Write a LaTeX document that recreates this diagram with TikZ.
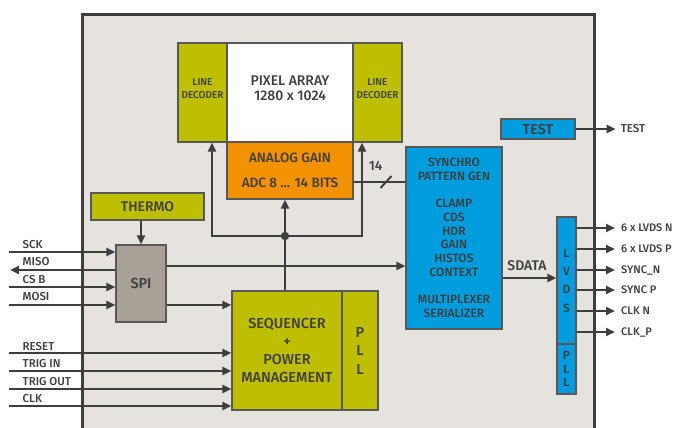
\documentclass[tikz,border=0pt]{standalone}
\usepackage{fontspec}
\setmainfont{Fira Sans}[UprightFont=* Medium]
\usetikzlibrary{arrows.meta,calc}
\definecolor{olv}{RGB}{190,191,0}
\definecolor{org}{RGB}{243,146,0}
\definecolor{blu}{RGB}{0,157,222}
\definecolor{chipbg}{RGB}{230,227,223}
\definecolor{spig}{RGB}{168,161,152}
\definecolor{txt}{RGB}{62,62,62}
\definecolor{edg}{RGB}{88,88,88}
\tikzset{
  blk/.style={draw=edg, line width=1.2pt, inner sep=0pt, text=txt, align=center},
  lbl/.style={text=txt, inner sep=0pt, align=center},
  io/.style={text=txt, inner sep=0pt, anchor=west, font=\fontsize{11.5}{13}\selectfont},
  wire/.style={draw=txt, line width=2.6pt},
  sig/.style={wire, -{Triangle[length=9pt,width=8pt]}},
}
\begin{document}
\begin{tikzpicture}[x=1pt,y=-1pt]
\useasboundingbox (0,0) rectangle (673,428);
\clip (0,0) rectangle (673,428);
\fill[white] (0,0) rectangle (673,428);
% chip
\draw[fill=chipbg, draw=txt, line width=3pt] (82,15) rectangle (594,450);

% boxes
\node[blk, fill=olv, minimum width=49pt, minimum height=99pt] (ldl) at (202.5,92.5) {};
\node[blk, fill=white, minimum width=126pt, minimum height=99pt] (pix) at (290,92.5) {};
\node[blk, fill=olv, minimum width=49pt, minimum height=99pt] (ldr) at (377.5,92.5) {};
\node[lbl, font=\fontsize{10}{13}\selectfont] (ldlt) at (202.5,88.5) {LINE\\DECODER};
\node[lbl, font=\fontsize{10}{13}\selectfont] (ldrt) at (377.5,88.5) {LINE\\DECODER};
\node[lbl, font=\fontsize{14}{15}\selectfont] (pixt) at (290,88.5) {PIXEL ARRAY\\1280 x 1024};
\node[blk, fill=org, minimum width=126pt, minimum height=57pt, font=\fontsize{13.5}{14}\selectfont] (ag) at (290,170.5) {ANALOG GAIN\\[11pt]ADC 8 ... 14 BITS};

\node[blk, fill=olv, minimum width=113pt, minimum height=27pt, font=\fontsize{14}{15}\selectfont] (thermo) at (147.5,206.5) {THERMO};
\node[blk, fill=spig, minimum width=50pt, minimum height=77pt, font=\fontsize{14.5}{15}\selectfont] (spi) at (141,283.5) {SPI};

\node[blk, fill=olv, minimum width=110pt, minimum height=119pt, font=\fontsize{14.5}{18}\selectfont] (seq) at (287,350.5) {SEQUENCER\\+\\POWER\\MANAGEMENT};
\node[blk, fill=olv, minimum width=36pt, minimum height=119pt, font=\fontsize{14.5}{18.5}\selectfont] (spll) at (360,350.5) {P\\L\\L};

\node[blk, fill=blu, minimum width=96pt, minimum height=182pt, font=\fontsize{12}{13.7}\selectfont] (sync) at (454,238) {SYNCHRO\\PATTERN GEN\\[13.7pt]CLAMP\\CDS\\HDR\\GAIN\\HISTOS\\CONTEXT\\[13.7pt]MULTIPLEXER\\SERIALIZER};

\node[blk, fill=blu, minimum width=74pt, minimum height=20pt, font=\fontsize{14.5}{15}\selectfont] (test) at (538,129) {TEST};

\node[blk, fill=blu, minimum width=19pt, minimum height=127pt, font=\fontsize{12}{18.3}\selectfont] (lvds) at (566.5,280.5) {L\\V\\D\\S};
\node[blk, fill=blu, minimum width=19pt, minimum height=50pt, font=\fontsize{12}{13.5}\selectfont] (lpll) at (566.5,369) {P\\L\\L};

% thermo -> spi
\draw[sig] (thermo.south -| spi.north) -- (spi.north);

% SPI external signals
\coordinate (sck) at (9,252);
\coordinate (miso) at (10,270);
\coordinate (csb) at (9,287);
\coordinate (mosi) at (9,305);
\draw[sig] (sck) -- (sck -| spi.west);
\draw[sig] (miso -| spi.west) -- (miso);
\draw[sig] (csb) -- (csb -| spi.west);
\draw[sig] (mosi) -- (mosi -| spi.west);
\node[io] (sckl) at (22.5,245) {SCK};
\node[io] (misol) at (22.5,262) {MISO};
\node[io] (csbl) at (22.5,279.5) {CS B};
\node[io] (mosil) at (22.5,297) {MOSI};

% sequencer external signals
\coordinate (rst) at (9,353);
\coordinate (tin) at (9,371);
\coordinate (tout) at (9,389);
\coordinate (clk) at (9,406);
\draw[sig] (rst) -- (rst -| seq.west);
\draw[sig] (tin) -- (tin -| seq.west);
\draw[sig] (tout) -- (tout -| seq.west);
\draw[sig] (clk) -- (clk -| seq.west);
\node[io] (rstl) at (22.5,346.5) {RESET};
\node[io] (tinl) at (22.5,364) {TRIG IN};
\node[io] (toutl) at (22.5,381.5) {TRIG OUT};
\node[io] (clkl) at (22.5,399) {CLK};

% spi -> sequencer, spi -> sync
\draw[sig] (spi.east |- mosi) -- (seq.west |- mosi);
\draw[sig] ([yshift=17.5pt]spi.east) -- ([yshift=17.5pt]spi.east -| sync.west);

% sequencer control to array
\coordinate (jn) at (285,236);
\draw[wire] (seq.north -| jn) -- (jn);
\draw[sig] (jn) -- (jn |- ag.south);
\draw[sig] (jn) -| ([xshift=9.5pt]ldl.south);
\draw[sig] (jn) -| ([xshift=-15.5pt]ldr.south);
\fill[txt] (jn) circle[radius=4.2pt];

% 14-bit bus
\draw[wire] ([yshift=-11.5pt]ag.east) -- ([yshift=-11.5pt]ag.east -| sync.west);
\draw[draw=txt, line width=2pt] (380.5,188) -- (391.5,176);
\node[lbl, font=\fontsize{13.5}{14}\selectfont] (b14) at (375.5,165.5) {14};

% SDATA
\draw[sig] ([yshift=-40pt]sync.east) -- ([yshift=-40pt]sync.east -| lvds.west);
\node[lbl, font=\fontsize{14}{15}\selectfont] (sdl) at (527,266) {SDATA};

% TEST out
\draw[sig, line width=2.4pt] (test.east) -- ++(40,0) coordinate (testo);
\node[io] (testl) at ([xshift=5pt]testo) {TEST};

% LVDS outputs
\foreach \yy/\nm/\tx in {228/o1/6 x LVDS N, 249/o2/6 x LVDS P, 270/o3/SYNC\_N, 290/o4/SYNC P, 311/o5/CLK N, 332/o6/CLK\_P}{
  \coordinate (\nm) at (615,\yy);
  \draw[sig, line width=2.4pt] (\nm -| lvds.east) -- (\nm);
  \node[io, font=\fontsize{11}{13}\selectfont] (\nm l) at ([xshift=6pt]\nm) {\tx};
}
\end{tikzpicture}
\end{document}
